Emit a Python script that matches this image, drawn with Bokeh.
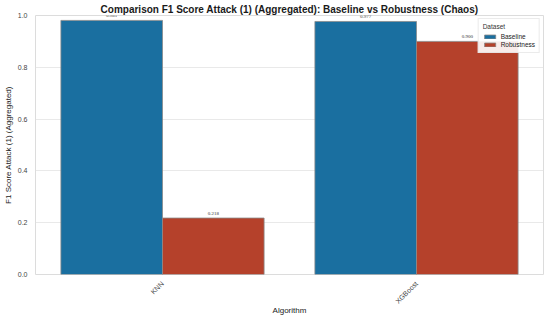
import math
from bokeh.plotting import figure
from bokeh.models import (ColumnDataSource, LabelSet, Legend, LegendItem, Range1d,
                          CustomJSTickFormatter)
from bokeh.transform import dodge
from bokeh.embed import file_html
from bokeh.resources import INLINE

algorithms = ["KNN", "XGBoost"]
datasets = ["Baseline", "Robustness"]
baseline = [0.981, 0.977]
robustness = [0.218, 0.900]
colors = ["#1a6fa0", "#b5412b"]

src_b = ColumnDataSource(dict(x=algorithms, top=baseline, label=[f"{v:.3f}" for v in baseline]))
src_r = ColumnDataSource(dict(x=algorithms, top=robustness, label=[f"{v:.3f}" for v in robustness]))

p = figure(x_range=algorithms, y_range=Range1d(0, 1.0),
           frame_width=508, frame_height=259,
           output_backend="svg", toolbar_location=None,
           min_border_left=0, min_border_right=2, min_border_top=0, min_border_bottom=0,
           title="Comparison F1 Score Attack (1) (Aggregated): Baseline vs Robustness (Chaos)")

p.title.text_font = "Liberation Sans"
p.title.text_font_size = "10px"
p.title.text_font_style = "bold"
p.title.align = "center"
p.title.text_color = "#1a1a1a"
p.title.standoff = 2
p.title.offset = 0

rb = p.vbar(x=dodge("x", -0.2, range=p.x_range), top="top", width=0.4, source=src_b,
            fill_color=colors[0], line_color="#8a8a8a", line_width=0.8)
rr = p.vbar(x=dodge("x", 0.2, range=p.x_range), top="top", width=0.4, source=src_r,
            fill_color=colors[1], line_color="#8a8a8a", line_width=0.8)

for src, off in ((src_b, -0.2), (src_r, 0.2)):
    p.add_layout(LabelSet(x=dodge("x", off, range=p.x_range), y="top", text="label", source=src,
                          text_align="center", text_baseline="bottom", y_offset=3,
                          text_font_size="5px", text_color="#333333",
                          text_font="Liberation Sans"))

legend = Legend(items=[LegendItem(label=datasets[0], renderers=[rb]),
                       LegendItem(label=datasets[1], renderers=[rr])],
                location="top_right", title="Dataset",
                title_text_font_size="6.5px", label_text_font_size="6.5px",
                title_text_font_style="normal", title_text_font="Liberation Sans",
                label_text_font="Liberation Sans", title_text_color="#333333",
                label_text_color="#222222",
                glyph_width=14, glyph_height=5, label_height=7, spacing=1,
                padding=4, margin=3, border_line_color="#d8d8d8",
                title_standoff=3, label_standoff=4, background_fill_alpha=0.9)
p.add_layout(legend)

p.xaxis.axis_label = "Algorithm"
p.yaxis.axis_label = "F1 Score Attack (1) (Aggregated)"
for ax in (p.xaxis[0], p.yaxis[0]):
    ax.axis_label_text_font_size = "8px"
    ax.axis_label_text_font_style = "normal"
    ax.axis_label_text_font = "Liberation Sans"
    ax.axis_label_text_color = "#222222"
    ax.major_tick_line_color = None
    ax.minor_tick_line_color = None
    ax.axis_line_color = None
    ax.major_label_text_font = "Liberation Sans"
    ax.major_label_text_color = "#444444"
    ax.major_label_text_font_size = "7px"
p.xaxis.major_label_orientation = math.pi / 4
p.yaxis.ticker = [0.0, 0.2, 0.4, 0.6, 0.8, 1.0]
p.yaxis.formatter = CustomJSTickFormatter(code="return tick.toFixed(1);")
p.yaxis.major_label_standoff = 2
p.yaxis.axis_label_standoff = 2
p.xaxis.major_label_standoff = 2
p.xaxis.axis_label_standoff = -4

p.xgrid.grid_line_color = None
p.ygrid.grid_line_color = "#e3e3e3"
p.ygrid.grid_line_width = 0.8
p.outline_line_color = "#dcdcdc"
p.outline_line_width = 1
p.background_fill_color = "white"
p.border_fill_color = "white"

open("out.html", "w").write(file_html(p, INLINE))
